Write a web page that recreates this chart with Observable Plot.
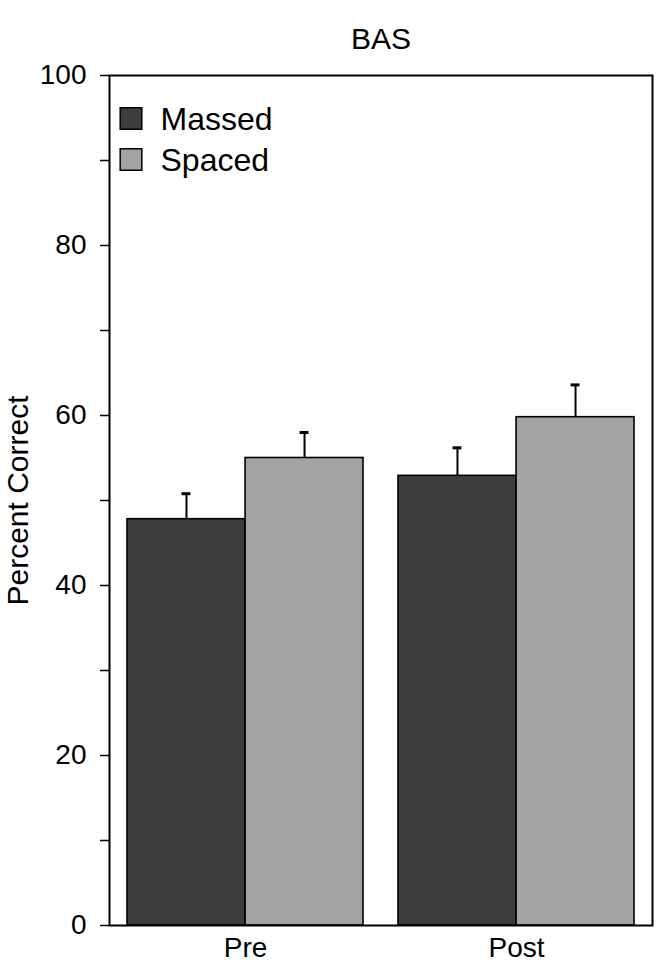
<!DOCTYPE html>
<html>
<head>
<meta charset="utf-8">
<script src="https://cdn.jsdelivr.net/npm/d3@7"></script>
<script src="https://cdn.jsdelivr.net/npm/@observablehq/plot@0.6"></script>
<style>
  html, body { margin: 0; padding: 0; background: #fff; }
  #chart svg { display: block; }
</style>
</head>
<body>
<div id="chart"></div>
<script>
// ---- data ----
const title = "BAS";
const yLabel = "Percent Correct";
const times = ["Pre", "Post"];
const groups = ["Massed", "Spaced"];
const massedMean = [47.8, 52.9];
const massedSE = [3.0, 3.3];
const spacedMean = [55.0, 59.8];
const spacedSE = [3.0, 3.8];
const yMajorTicks = [0, 20, 40, 60, 80, 100];
const yMinorTicks = [10, 30, 50, 70, 90];
const groupColors = ["#3d3d3d", "#a3a3a3"];

// ---- table ----
const rows = [];
times.forEach((t, i) => {
  rows.push({time: t, group: "Massed", mean: massedMean[i], top: massedMean[i] + massedSE[i]});
  rows.push({time: t, group: "Spaced", mean: spacedMean[i], top: spacedMean[i] + spacedSE[i]});
});
const massedRows = rows.filter(d => d.group === "Massed");
const spacedRows = rows.filter(d => d.group === "Spaced");

// ---- layout ----
const W = 656, H = 965;
const mL = 109, mR = 4, mT = 75, mB = 40;
const pInner = 0.129, pOuter = 0.066;
const step = (W - mL - mR) / (times.length - pInner + 2 * pOuter);
const bw = step * (1 - pInner);
const half = bw / 2;
const capHalf = 4.5;
const font = "'Liberation Sans', Arial, Helvetica, sans-serif";

const legendMarks = groups.flatMap((g, i) => [
  Plot.dot([g], {frameAnchor: "top-left", dx: 21.5, dy: 43 + i * 41, symbol: "square", r: 12.2,
    fill: groupColors[i], stroke: "black", strokeWidth: 1.5}),
  Plot.text([g], {frameAnchor: "top-left", dx: 51, dy: 44 + i * 41, textAnchor: "start",
    lineAnchor: "middle", fontSize: 32, fill: "black"})
]);

const chart = Plot.plot({
  width: W, height: H,
  marginLeft: mL, marginRight: mR, marginTop: mT, marginBottom: mB,
  style: {fontFamily: font, color: "black", background: "white"},
  x: {domain: times, paddingInner: pInner, paddingOuter: pOuter, label: null},
  y: {domain: [0, 100], label: null},
  marks: [
    Plot.barY(massedRows, {x: "time", y: "mean", insetRight: half, fill: groupColors[0], stroke: "black", strokeWidth: 1.6}),
    Plot.barY(spacedRows, {x: "time", y: "mean", insetLeft: half, fill: groupColors[1], stroke: "black", strokeWidth: 1.6}),
    Plot.ruleX(massedRows, {x: "time", y1: "mean", y2: "top", dx: -bw / 4, stroke: "black", strokeWidth: 2}),
    Plot.ruleX(spacedRows, {x: "time", y1: "mean", y2: "top", dx: bw / 4, stroke: "black", strokeWidth: 2}),
    Plot.tickY(massedRows, {x: "time", y: "top", insetLeft: bw / 4 - capHalf, insetRight: 3 * bw / 4 - capHalf, stroke: "black", strokeWidth: 3}),
    Plot.tickY(spacedRows, {x: "time", y: "top", insetLeft: 3 * bw / 4 - capHalf, insetRight: bw / 4 - capHalf, stroke: "black", strokeWidth: 3}),
    Plot.axisY({ticks: yMajorTicks, tickSize: 9, tickPadding: 14, fontSize: 28, label: null, strokeWidth: 1.5}),
    Plot.axisY({ticks: yMinorTicks, tickSize: 9, tickFormat: () => "", label: null, strokeWidth: 1.5}),
    Plot.axisX({tickSize: 0, tickPadding: 12, fontSize: 28, label: null}),
    Plot.frame({stroke: "black", strokeWidth: 2}),
    Plot.text([title], {frameAnchor: "top", dy: -48, fontSize: 30, fill: "black"}),
    Plot.text([yLabel], {frameAnchor: "left", rotate: -90, dx: -91, textAnchor: "middle", fontSize: 30, fill: "black"}),
    ...legendMarks
  ]
});
document.getElementById("chart").appendChild(chart);
</script>
</body>
</html>
